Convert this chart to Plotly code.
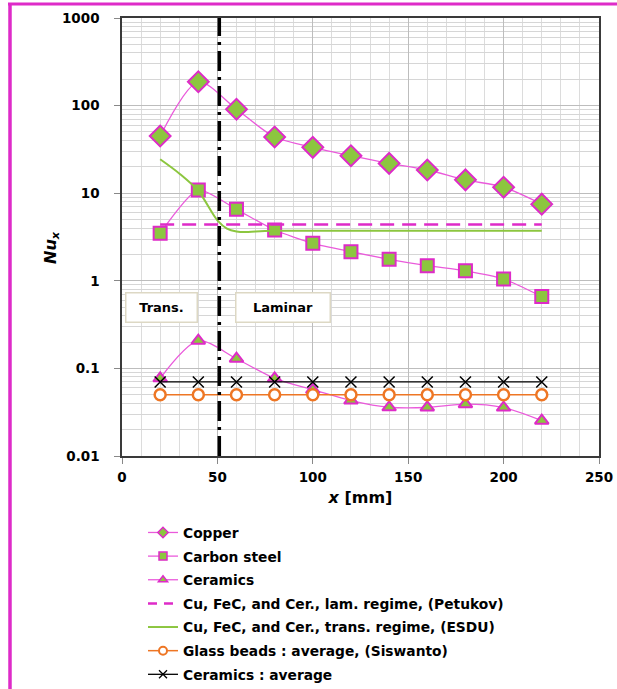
import plotly.graph_objects as go

# ---------------- data ----------------
x_pos = [20, 40, 60, 80, 100, 120, 140, 160, 180, 200, 220]
copper = [45, 187, 91, 43.8, 33.4, 26.8, 21.9, 18.4, 14.2, 11.7, 7.5]
carbon_steel = [3.48, 10.9, 6.55, 3.8, 2.68, 2.15, 1.76, 1.49, 1.30, 1.05, 0.66]
ceramics = [0.077, 0.207, 0.129, 0.077, 0.057, 0.043, 0.036, 0.0358, 0.039, 0.0357, 0.0253]
petukhov_x = [20, 220]
petukhov_y = [4.4, 4.4]
esdu_x = [20, 30, 40, 50, 55, 60, 65, 70, 80, 100, 120, 140, 160, 180, 200, 220]
esdu_y = [24.4, 16.8, 10.6, 4.9, 3.95, 3.65, 3.6, 3.66, 3.72, 3.73, 3.73, 3.73, 3.73, 3.73, 3.73, 3.73]
glass_avg = [0.05] * 11
ceramics_avg = [0.07] * 11
regime_boundary = 51
x_ticks = [0, 50, 100, 150, 200, 250]
y_ticks = [0.01, 0.1, 1, 10, 100, 1000]
y_ticklabels = ["0.01", "0.1", "1", "10", "100", "1000"]

# ---------------- styling ----------------
W, H = 617, 689
ML, MR, MT, MB = 122, 18, 18, 233
PW, PH = W - ML - MR, H - MT - MB
MAG = "#DE2BC8"
MAG_LINE = "#EA5ADB"
GREEN = "#8CC63F"
ORANGE = "#EE7624"
FONT = "DejaVu Sans"

series = [
    dict(name="Copper", x=x_pos, y=copper, mode="lines+markers",
         line=dict(color=MAG_LINE, width=1.3, shape="spline", smoothing=0.8),
         marker=dict(symbol="diamond", size=16, color=GREEN, line=dict(color=MAG, width=2)),
         lmarker=dict(symbol="diamond", size=8, color=GREEN, line=dict(color=MAG, width=1.5))),
    dict(name="Carbon steel", x=x_pos, y=carbon_steel, mode="lines+markers",
         line=dict(color=MAG_LINE, width=1.3, shape="spline", smoothing=0.6),
         marker=dict(symbol="square", size=13, color=GREEN, line=dict(color=MAG, width=2)),
         lmarker=dict(symbol="square", size=8, color=GREEN, line=dict(color=MAG, width=1.5))),
    dict(name="Ceramics", x=x_pos, y=ceramics, mode="lines+markers",
         line=dict(color=MAG_LINE, width=1.3, shape="spline", smoothing=0.8),
         marker=dict(symbol="triangle-up", size=12, color=GREEN, line=dict(color=MAG, width=2)),
         lmarker=dict(symbol="triangle-up", size=8, color=GREEN, line=dict(color=MAG, width=1.5))),
    dict(name="Cu, FeC, and Cer., lam. regime, (Petukov)", x=petukhov_x, y=petukhov_y, mode="lines",
         line=dict(color=MAG, width=2.5, dash="14px,8px"), marker=None, lmarker=None),
    dict(name="Cu, FeC, and Cer., trans. regime, (ESDU)", x=esdu_x, y=esdu_y, mode="lines",
         line=dict(color=GREEN, width=2, shape="spline", smoothing=0.9), marker=None, lmarker=None),
    dict(name="Glass beads : average, (Siswanto)", x=x_pos, y=glass_avg, mode="lines+markers",
         line=dict(color=ORANGE, width=1.5),
         marker=dict(symbol="circle", size=11, color="white", line=dict(color=ORANGE, width=2.5)),
         lmarker=dict(symbol="circle", size=8, color="white", line=dict(color=ORANGE, width=2))),
    dict(name="Ceramics : average", x=x_pos, y=ceramics_avg, mode="lines+markers",
         line=dict(color="black", width=1.3),
         marker=dict(symbol="x-thin", size=11, color="black", line=dict(color="black", width=1.5)),
         lmarker=dict(symbol="x-thin", size=8, color="black", line=dict(color="black", width=1.3))),
]

fig = go.Figure()
for i, s in enumerate(series):
    kw = dict(marker=s["marker"]) if s["marker"] else {}
    fig.add_trace(go.Scatter(x=s["x"], y=s["y"], name=s["name"], mode=s["mode"],
                             line=s["line"], showlegend=False, **kw))
for i, s in enumerate(series):
    lline = dict(s["line"])
    lline.pop("shape", None)
    lline.pop("smoothing", None)
    if s["name"].startswith("Cu, FeC, and Cer., lam"):
        lline["dash"] = "9px,7px"
    kw = dict(marker=s["lmarker"]) if s["lmarker"] else {}
    fig.add_trace(go.Scatter(x=[None], y=[None], name=s["name"], mode=s["mode"],
                             line=lline, showlegend=True, legendgroup=f"g{i}", **kw))

# regime boundary (dash-dot)
fig.add_shape(type="line", xref="x", yref="paper", x0=regime_boundary, x1=regime_boundary,
              y0=0, y1=1, line=dict(color="black", width=3.5, dash="20px,6px,3px,6px"))

# text boxes
for txt, xc, wbox in [("Trans.", 20.5, 70), ("Laminar", 84.5, 93)]:
    fig.add_annotation(x=xc, y=-0.31, xref="x", yref="y", text=txt, showarrow=False,
                       font=dict(family=FONT, size=13, color="black", weight="bold"),
                       bgcolor="white", bordercolor="#DDD8C4", borderwidth=1.5,
                       width=wbox, height=28, borderpad=0)

# y axis title
fig.add_annotation(x=(51 - ML) / PW, y=(H - MB - 248) / PH, xref="paper", yref="paper",
                   xanchor="center", yanchor="middle",
                   text="<i>Nu<sub>x</sub></i>", textangle=-90, showarrow=False,
                   font=dict(family=FONT, size=16, color="black", weight="bold"))

# magenta page border (left and top)
fig.add_shape(type="line", xref="paper", yref="paper",
              x0=(10 - ML) / PW, x1=(10 - ML) / PW, y0=(H - MB - 4) / PH, y1=(H - MB - H) / PH,
              line=dict(color=MAG, width=3.5))
fig.add_shape(type="line", xref="paper", yref="paper",
              x0=(8 - ML) / PW, x1=(W - ML) / PW, y0=(H - MB - 4) / PH, y1=(H - MB - 4) / PH,
              line=dict(color=MAG, width=3))

tickfont = dict(family=FONT, size=13.5, color="black", weight="bold")
fig.update_xaxes(range=[0, 250], tickvals=x_ticks, ticks="outside", ticklen=6, tickcolor="#888",
                 showgrid=True, gridcolor="#BDBDBD", gridwidth=1.2,
                 minor=dict(dtick=10, showgrid=True, gridcolor="#DCDCDC", gridwidth=1, ticks=""),
                 showline=True, linecolor="#3A3A3A", linewidth=1.5, mirror=True,
                 zeroline=False, tickfont=tickfont, ticklabelstandoff=2,
                 title=dict(text="<b><i>x</i> [mm]</b>", font=dict(family=FONT, size=16, color="black"),
                            standoff=8))
fig.update_yaxes(type="log", range=[-2, 3], tickvals=y_ticks, ticktext=y_ticklabels,
                 ticks="outside", ticklen=6, tickcolor="#888",
                 showgrid=True, gridcolor="#BDBDBD", gridwidth=1.2,
                 minor=dict(dtick="D1", showgrid=True, gridcolor="#D6D6D6", gridwidth=1, ticks=""),
                 showline=True, linecolor="#3A3A3A", linewidth=1.5, mirror=True,
                 zeroline=False, tickfont=tickfont, ticklabelstandoff=12)

fig.update_layout(
    width=W, height=H, margin=dict(l=ML, r=MR, t=MT, b=MB, autoexpand=False),
    paper_bgcolor="white", plot_bgcolor="white",
    showlegend=True,
    legend=dict(x=(143 - ML) / PW, xanchor="left", y=(H - MB - 517) / PH, yanchor="top",
                traceorder="grouped", tracegroupgap=2.7,
                font=dict(family=FONT, size=13.8, color="black", weight="bold"),
                bgcolor="rgba(0,0,0,0)"),
)

fig.write_html("out.html")
